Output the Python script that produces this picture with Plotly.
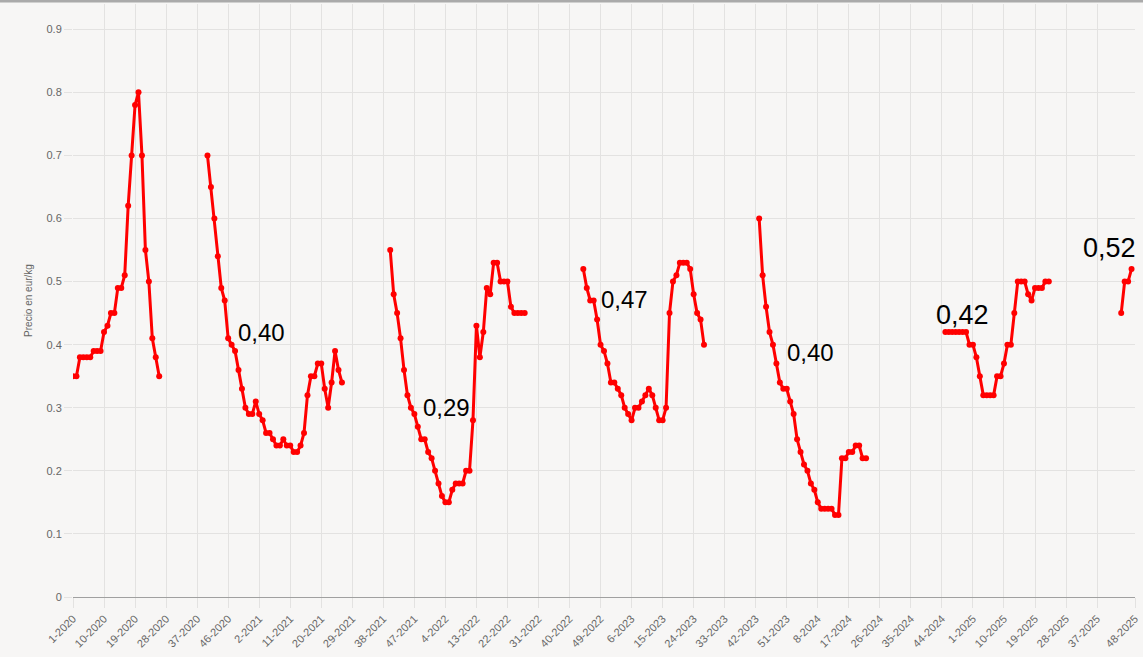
import plotly.graph_objects as go

# ---- categories (week-year) ----
years = [2020, 2021, 2022, 2023, 2024, 2025]
weeks_per_year = [53, 52, 52, 52, 52, 48]
weeks = [f"{w}-{y}" for y, n in zip(years, weeks_per_year) for w in range(1, n + 1)]

tick_labels = ["1-2020", "10-2020", "19-2020", "28-2020", "37-2020", "46-2020",
               "2-2021", "11-2021", "20-2021", "29-2021", "38-2021", "47-2021",
               "4-2022", "13-2022", "22-2022", "31-2022", "40-2022", "49-2022",
               "6-2023", "15-2023", "24-2023", "33-2023", "42-2023", "51-2023",
               "8-2024", "17-2024", "26-2024", "35-2024", "44-2024", "1-2025",
               "10-2025", "19-2025", "28-2025", "37-2025", "48-2025"]

# ---- series values, by season (start week, values) ----
season_2020_start = "1-2020"
season_2020 = [0.35, 0.35, 0.38, 0.38, 0.38, 0.38, 0.39, 0.39, 0.39, 0.42, 0.43, 0.45, 0.45,
               0.49, 0.49, 0.51, 0.62, 0.70, 0.78, 0.80, 0.70, 0.55, 0.50, 0.41, 0.38, 0.35]

season_2021_start = "40-2020"
season_2021 = [0.70, 0.65, 0.60, 0.54, 0.49, 0.47, 0.41, 0.40, 0.39, 0.36, 0.33, 0.30, 0.29,
               0.29, 0.31, 0.29, 0.28, 0.26, 0.26, 0.25, 0.24, 0.24, 0.25, 0.24, 0.24, 0.23,
               0.23, 0.24, 0.26, 0.32, 0.35, 0.35, 0.37, 0.37, 0.33, 0.30, 0.34, 0.39, 0.36, 0.34]

season_2022_start = "40-2021"
season_2022 = [0.55, 0.48, 0.45, 0.41, 0.36, 0.32, 0.30, 0.29, 0.27, 0.25, 0.25, 0.23, 0.22,
               0.20, 0.18, 0.16, 0.15, 0.15, 0.17, 0.18, 0.18, 0.18, 0.20, 0.20, 0.28, 0.43,
               0.38, 0.42, 0.49, 0.48, 0.53, 0.53, 0.50, 0.50, 0.50, 0.46, 0.45, 0.45, 0.45, 0.45]

season_2023_start = "44-2022"
season_2023 = [0.52, 0.49, 0.47, 0.47, 0.44, 0.40, 0.39, 0.37, 0.34, 0.34, 0.33, 0.32, 0.30,
               0.29, 0.28, 0.30, 0.30, 0.31, 0.32, 0.33, 0.32, 0.30, 0.28, 0.28, 0.30, 0.45,
               0.50, 0.51, 0.53, 0.53, 0.53, 0.52, 0.48, 0.45, 0.44, 0.40]

season_2024_start = "43-2023"
season_2024 = [0.60, 0.51, 0.46, 0.42, 0.40, 0.37, 0.34, 0.33, 0.33, 0.31, 0.29, 0.25, 0.23,
               0.21, 0.20, 0.18, 0.17, 0.15, 0.14, 0.14, 0.14, 0.14, 0.13, 0.13, 0.22, 0.22,
               0.23, 0.23, 0.24, 0.24, 0.22, 0.22]

season_2025_start = "45-2024"
season_2025 = [0.42, 0.42, 0.42, 0.42, 0.42, 0.42, 0.42, 0.40, 0.40, 0.38, 0.35, 0.32, 0.32,
               0.32, 0.32, 0.35, 0.35, 0.37, 0.40, 0.40, 0.45, 0.50, 0.50, 0.50, 0.48, 0.47,
               0.49, 0.49, 0.49, 0.50, 0.50]

season_2026_start = "44-2025"
season_2026 = [0.45, 0.50, 0.50, 0.52]

seasons = [(season_2020_start, season_2020), (season_2021_start, season_2021),
           (season_2022_start, season_2022), (season_2023_start, season_2023),
           (season_2024_start, season_2024), (season_2025_start, season_2025),
           (season_2026_start, season_2026)]

# ---- labelled points (week 47 of each season) ----
label_weeks = ["47-2020", "47-2021", "47-2022", "47-2023", "47-2024", "47-2025"]
label_texts = ["0,40", "0,29", "0,47", "0,40", "0,42", "0,52"]

# build full y array with gaps
y = [None] * len(weeks)
for start, vals in seasons:
    i0 = weeks.index(start)
    for k, v in enumerate(vals):
        y[i0 + k] = v

fig = go.Figure()
fig.add_trace(go.Scatter(
    x=weeks, y=y, mode="lines+markers", connectgaps=False,
    line=dict(color="#ff0000", width=3),
    marker=dict(color="#ff0000", size=6),
    showlegend=False,
))

# annotation styling (pixel shifts and sizes)
label_shifts = [(30, 12), (32, 7), (31, 1), (38, -8), (10, 17), (-22, 21)]
label_sizes = [24, 24, 24, 24, 27, 27]
for wk, txt, (dx, dy), fs in zip(label_weeks, label_texts, label_shifts, label_sizes):
    yi = y[weeks.index(wk)]
    fig.add_annotation(x=wk, y=yi, text=txt, showarrow=False,
                       xshift=dx, yshift=dy,
                       font=dict(family="Arial, Liberation Sans", size=fs, color="#000000"))

grid = "#e3e2e1"
bg = "#f7f6f5"
plot_w = 1143 - 73 - 8
plot_h = 657 - 4 - 60

fig.update_layout(
    width=1143, height=657,
    margin=dict(l=73, r=8, t=4, b=60),
    paper_bgcolor=bg, plot_bgcolor=bg,
    font=dict(family="Arial, Liberation Sans", color="#666666"),
    xaxis=dict(
        type="category", categoryorder="array", categoryarray=weeks,
        range=[0, len(weeks) - 1],
        tickmode="array", tickvals=tick_labels, ticktext=tick_labels,
        tickangle=-45, tickfont=dict(size=11, color="#666666"),
        showgrid=True, gridcolor=grid, gridwidth=1,
        ticks="outside", ticklen=10, tickcolor=grid,
        showline=True, linecolor="#a0a0a0", linewidth=1,
        zeroline=False,
    ),
    yaxis=dict(
        range=[0, 0.94], tick0=0, dtick=0.1,
        tickfont=dict(size=11, color="#666666"),
        showgrid=True, gridcolor=grid, gridwidth=1,
        ticks="outside", ticklen=8, tickcolor=grid,
        zeroline=False, showline=False,
        title=dict(text="Precio en eur/kg", font=dict(size=10, color="#666666"), standoff=12),
    ),
    shapes=[dict(type="rect", xref="paper", yref="paper",
                 x0=-73 / plot_w, x1=1 + 8 / plot_w,
                 y0=1 + 1.5 / plot_h, y1=1 + 5 / plot_h,
                 fillcolor="#aaaaaa", line=dict(width=0), layer="above")],
)

fig.write_html("out.html")
